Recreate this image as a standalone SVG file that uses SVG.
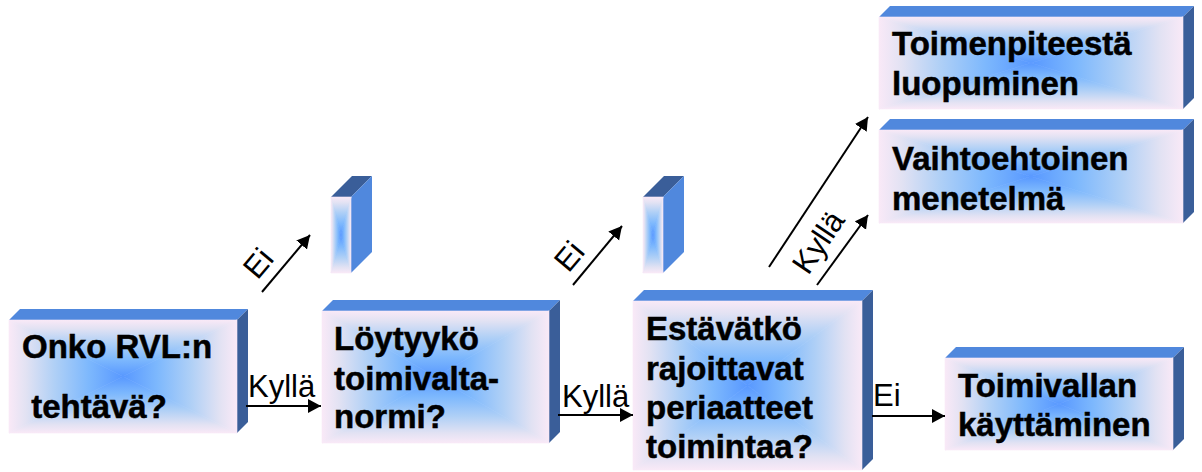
<svg xmlns="http://www.w3.org/2000/svg" width="1202" height="472" viewBox="0 0 1202 472">
<style>
.top{fill:#5088DD}
.side{fill:#3A5E99}
.t{font-family:"Liberation Sans",Arial,sans-serif;font-weight:bold;font-size:33px;fill:#000;stroke:#000;stroke-width:0.5}
.l{font-family:"Liberation Sans",Arial,sans-serif;font-size:31px;fill:#000}
.c{stroke:#000;stroke-width:2;fill:none;marker-end:url(#ah)}
.gT{fill:url(#gT);stroke:url(#gT);stroke-width:0.6}
.gB{fill:url(#gB);stroke:url(#gB);stroke-width:0.6}
.gL{fill:url(#gL);stroke:url(#gL);stroke-width:0.6}
.gR{fill:url(#gR);stroke:url(#gR);stroke-width:0.6}
</style>
<defs>
<linearGradient id="gT" x1="0" y1="0" x2="0" y2="1">
<stop offset="0" stop-color="#F9E9F7"/><stop offset="0.15" stop-color="#E2E2F3"/><stop offset="0.4" stop-color="#B0D0F6"/><stop offset="0.7" stop-color="#7DB8FD"/><stop offset="1" stop-color="#5898FF"/>
</linearGradient>
<linearGradient id="gB" href="#gT" x1="0" y1="1" x2="0" y2="0"/>
<linearGradient id="gL" href="#gT" x1="0" y1="0" x2="1" y2="0"/>
<linearGradient id="gR" href="#gT" x1="1" y1="0" x2="0" y2="0"/>
<marker id="ah" markerUnits="userSpaceOnUse" markerWidth="14" markerHeight="15" refX="13" refY="7" orient="auto">
<path d="M0,0 L13,7 L0,14 Z" fill="#000"/>
</marker>
</defs>

<g id="node-onko">
<polygon class="top" points="9,320 20,309 248,309 237,320"/>
<polygon class="side" points="237,320 248,309 248,422 237,433"/>
<polygon class="gT" points="9,320 237,320 123,376.5"/>
<polygon class="gB" points="9,433 237,433 123,376.5"/>
<polygon class="gL" points="9,320 9,433 123,376.5"/>
<polygon class="gR" points="237,320 237,433 123,376.5"/>
<text class="t" x="22" y="358">Onko RVL:n</text>
<text class="t" x="22" y="418" xml:space="preserve"> tehtävä?</text>
</g>

<g id="node-loytyyko">
<polygon class="top" points="322,311 333,300 560,300 549,311"/>
<polygon class="side" points="549,311 560,300 560,432 549,443"/>
<polygon class="gT" points="322,311 549,311 435.5,377"/>
<polygon class="gB" points="322,443 549,443 435.5,377"/>
<polygon class="gL" points="322,311 322,443 435.5,377"/>
<polygon class="gR" points="549,311 549,443 435.5,377"/>
<text class="t" x="334" y="350">Löytyykö</text>
<text class="t" x="334" y="390">toimivalta-</text>
<text class="t" x="334" y="428">normi?</text>
</g>

<g id="node-estavatko">
<polygon class="top" points="633,301 644,290 873,290 862,301"/>
<polygon class="side" points="862,301 873,290 873,459 862,470"/>
<polygon class="gT" points="633,301 862,301 747.5,385.5"/>
<polygon class="gB" points="633,470 862,470 747.5,385.5"/>
<polygon class="gL" points="633,301 633,470 747.5,385.5"/>
<polygon class="gR" points="862,301 862,470 747.5,385.5"/>
<text class="t" x="646" y="340">Estävätkö</text>
<text class="t" x="646" y="380">rajoittavat</text>
<text class="t" x="646" y="419">periaatteet</text>
<text class="t" x="646" y="458">toimintaa?</text>
</g>

<g id="node-toimivallan">
<polygon class="top" points="945,358 956,347 1184,347 1173,358"/>
<polygon class="side" points="1173,358 1184,347 1184,439 1173,450"/>
<polygon class="gT" points="945,358 1173,358 1059,404"/>
<polygon class="gB" points="945,450 1173,450 1059,404"/>
<polygon class="gL" points="945,358 945,450 1059,404"/>
<polygon class="gR" points="1173,358 1173,450 1059,404"/>
<text class="t" x="958" y="397">Toimivallan</text>
<text class="t" x="958" y="436">käyttäminen</text>
</g>

<g id="node-toimenpiteesta">
<polygon class="top" points="879,17 890,6 1194,6 1183,17"/>
<polygon class="side" points="1183,17 1194,6 1194,98 1183,109"/>
<polygon class="gT" points="879,17 1183,17 1031,63"/>
<polygon class="gB" points="879,109 1183,109 1031,63"/>
<polygon class="gL" points="879,17 879,109 1031,63"/>
<polygon class="gR" points="1183,17 1183,109 1031,63"/>
<text class="t" x="892" y="55">Toimenpiteestä</text>
<text class="t" x="892" y="95">luopuminen</text>
</g>

<g id="node-vaihtoehtoinen">
<polygon class="top" points="879,130 890,119 1194,119 1183,130"/>
<polygon class="side" points="1183,130 1194,119 1194,212 1183,223"/>
<polygon class="gT" points="879,130 1183,130 1031,176.5"/>
<polygon class="gB" points="879,223 1183,223 1031,176.5"/>
<polygon class="gL" points="879,130 879,223 1031,176.5"/>
<polygon class="gR" points="1183,130 1183,223 1031,176.5"/>
<text class="t" x="892" y="170">Vaihtoehtoinen</text>
<text class="t" x="892" y="210">menetelmä</text>
</g>

<g id="node-bar1">
<polygon class="side" points="331,197 352,176 372,176 351,197"/>
<polygon class="top" points="351,197 372,176 372,252 351,273"/>
<polygon class="gT" points="331,197 351,197 341,235"/>
<polygon class="gB" points="331,273 351,273 341,235"/>
<polygon class="gL" points="331,197 331,273 341,235"/>
<polygon class="gR" points="351,197 351,273 341,235"/>
</g>

<g id="node-bar2">
<polygon class="side" points="643,197 664,176 684,176 663,197"/>
<polygon class="top" points="663,197 684,176 684,252 663,273"/>
<polygon class="gT" points="643,197 663,197 653,235"/>
<polygon class="gB" points="643,273 663,273 653,235"/>
<polygon class="gL" points="643,197 643,273 653,235"/>
<polygon class="gR" points="663,197 663,273 653,235"/>
</g>

<g id="connectors">
<line class="c" x1="246" y1="406" x2="321" y2="406"/>
<line class="c" x1="558" y1="415" x2="633" y2="415"/>
<line class="c" x1="872" y1="416" x2="945" y2="416"/>
<line class="c" x1="262" y1="292" x2="310" y2="235"/>
<line class="c" x1="573" y1="285" x2="622" y2="226"/>
<line class="c" x1="769" y1="267" x2="868" y2="117"/>
<line class="c" x1="817" y1="285" x2="868" y2="215"/>
<text class="l" x="248" y="397">Kyllä</text>
<text class="l" x="562" y="407">Kyllä</text>
<text class="l" x="873" y="406">Ei</text>
<text class="l" text-anchor="middle" transform="translate(258,263) rotate(-50)" x="0" y="11">Ei</text>
<text class="l" text-anchor="middle" transform="translate(569,256) rotate(-50)" x="0" y="11">Ei</text>
<text class="l" text-anchor="middle" transform="translate(818,242) rotate(-56)" x="0" y="11">Kyllä</text>
</g>
</svg>
